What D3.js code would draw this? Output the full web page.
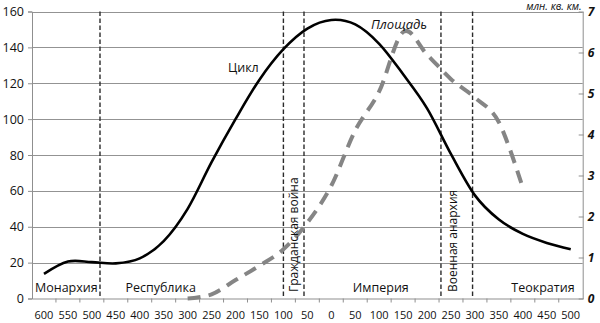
<!DOCTYPE html>
<html>
<head>
<meta charset="utf-8">
<script src="https://cdn.jsdelivr.net/npm/d3@7"></script>
<style>
  html, body { margin: 0; padding: 0; background: #fff; }
  svg { display: block; font-family: "Open Sans", "DejaVu Sans", sans-serif; }
</style>
</head>
<body>
<svg id="chart" width="600" height="323"></svg>
<script>
// Axis categories: years from 600 BC (negative) to 500 AD
const tickYears = [-600, -550, -500, -450, -400, -350, -300, -250, -200, -150, -100, -50,
                   0, 50, 100, 150, 200, 250, 300, 350, 400, 450, 500];
const tickLabels = ["600", "550", "500", "450", "400", "350", "300", "250", "200", "150", "100", "50",
                    "0", "50", "100", "150", "200", "250", "300", "350", "400", "450", "500"];

// "Цикл" series (left axis)
const cycleYears  = [-600, -550, -500, -450, -400, -350, -300, -250, -200, -150, -100, -50,
                     0, 50, 100, 150, 200, 250, 300, 350, 400, 450, 500];
const cycleValues = [13.7, 20.6, 20.3, 19.6, 22.4, 32, 50, 76, 100, 122, 139, 150.5,
                     155.3, 152.8, 142, 125, 106, 80.5, 57.5, 44, 36, 31, 27.5];

// "Площадь" series (right axis, million sq. km)
const areaYears  = [-300, -250, -200, -150, -100, -50, 0, 50, 100, 150, 200, 250, 300, 350, 400];
const areaValues = [0, 0.1, 0.45, 0.8, 1.2, 1.85, 2.75, 4.1, 5.05, 6.5, 5.95, 5.35, 4.9, 4.3, 2.7];

// Period boundaries and names
const eraBounds = [-483, -100, -57, 229, 295];
const eraNames  = ["Монархия", "Республика", "Империя", "Теократия"];
const eraNameYears = [-600, -430, 45, 376];
const eraVertical = ["Гражданская война", "Военная анархия"];

const leftTicks  = [0, 20, 40, 60, 80, 100, 120, 140, 160];
const rightTicks = [0, 1, 2, 3, 4, 5, 6, 7];

const svg = d3.select("#chart");
const plot = { left: 32, right: 582.7, top: 11.5, bottom: 298.5 };

const band = d3.scaleBand().domain(tickYears).range([plot.left, plot.right]).padding(0);
const bw = band.bandwidth();
const x = d3.scaleLinear()
  .domain([tickYears[0], tickYears[tickYears.length - 1]])
  .range([band(tickYears[0]) + bw / 2, band(tickYears[tickYears.length - 1]) + bw / 2]);
const yL = d3.scaleLinear().domain([0, 160]).range([plot.bottom, plot.top]);
const yR = d3.scaleLinear().domain([0, 7]).range([plot.bottom, plot.top]);

// Horizontal gridlines
svg.append("g").selectAll("line").data(leftTicks.filter(d => d > 0)).join("line")
  .attr("x1", plot.left).attr("x2", plot.right)
  .attr("y1", d => Math.round(yL(d)) + 0.5).attr("y2", d => Math.round(yL(d)) + 0.5)
  .attr("stroke", "#939393").attr("stroke-width", 1);

// Left axis
const gL = svg.append("g").attr("transform", `translate(${plot.left},0)`)
  .call(d3.axisLeft(yL).tickValues(leftTicks).tickSize(4).tickPadding(4));
gL.select(".domain").attr("stroke", "#8f8f8f");
gL.selectAll(".tick line").attr("stroke", "#8f8f8f");
gL.selectAll(".tick text").attr("font-size", 12.5).attr("fill", "#111")
  .attr("font-family", "Open Sans");

// Right axis
const gR = svg.append("g").attr("transform", `translate(${plot.right},0)`)
  .call(d3.axisRight(yR).tickValues(rightTicks).tickFormat(d3.format("d")).tickSize(0).tickPadding(5));
gR.select(".domain").attr("stroke", "#8f8f8f");
gR.selectAll(".tick").append("line").attr("x1", -4).attr("x2", 1).attr("stroke", "#8f8f8f");
gR.selectAll(".tick text").attr("font-size", 12).attr("font-weight", "bold")
  .attr("font-style", "italic").attr("fill", "#111").attr("font-family", "Open Sans");

svg.append("text").attr("x", plot.right - 1).attr("y", 10)
  .attr("text-anchor", "end").attr("font-size", 10.5).attr("font-style", "italic")
  .attr("fill", "#111").text("млн. кв. км.");

// Bottom axis
const gB = svg.append("g").attr("transform", `translate(0,${plot.bottom})`)
  .call(d3.axisBottom(band).tickValues(tickYears).tickSize(0).tickPadding(13)
    .tickFormat((d, i) => tickLabels[i]));
gB.select(".domain").attr("stroke", "#8f8f8f");
gB.selectAll(".tick text").attr("font-size", 11).attr("fill", "#111").attr("font-family", "Open Sans");
svg.append("g").selectAll("line").data(tickYears.slice(1)).join("line")
  .attr("x1", d => band(d)).attr("x2", d => band(d))
  .attr("y1", plot.bottom).attr("y2", plot.bottom + 4)
  .attr("stroke", "#8f8f8f");

// Period boundary lines
svg.append("g").selectAll("line").data(eraBounds).join("line")
  .attr("x1", d => x(d)).attr("x2", d => x(d))
  .attr("y1", plot.top).attr("y2", plot.bottom)
  .attr("stroke", "#2b2b2b").attr("stroke-width", 1.4).attr("stroke-dasharray", "4.5,2.5");

// Area series
const areaLine = d3.line().x(d => x(d[0])).y(d => yR(d[1])).curve(d3.curveCardinal.tension(0));
svg.append("path").datum(areaYears.map((d, i) => [d, areaValues[i]]))
  .attr("d", areaLine).attr("fill", "none")
  .attr("stroke", "#858585").attr("stroke-width", 4).attr("stroke-dasharray", "13,8");

// Cycle series
const cycleLine = d3.line().x(d => x(d[0])).y(d => yL(d[1])).curve(d3.curveCardinal.tension(0));
svg.append("path").datum(cycleYears.map((d, i) => [d, cycleValues[i]]))
  .attr("d", cycleLine).attr("fill", "none")
  .attr("stroke", "#000").attr("stroke-width", 2.6).attr("stroke-linejoin", "round");

// Series labels
svg.append("text").attr("x", 228).attr("y", 72).attr("font-size", 12.5).attr("fill", "#111").text("Цикл");
svg.append("text").attr("x", 371).attr("y", 29).attr("font-size", 13).attr("font-style", "italic")
  .attr("fill", "#111").text("Площадь");

// Period names
svg.append("g").selectAll("text").data(eraNames).join("text")
  .attr("x", (d, i) => x(eraNameYears[i]) - (i === 0 ? 9 : 0))
  .attr("y", 292)
  .attr("font-size", 12.5).attr("fill", "#111").text(d => d);
svg.append("g").selectAll("text").data(eraVertical).join("text")
  .attr("transform", (d, i) => `translate(${[298, 457][i]},292) rotate(-90)`)
  .attr("font-size", 12).attr("fill", "#111").text(d => d);
</script>
</body>
</html>
